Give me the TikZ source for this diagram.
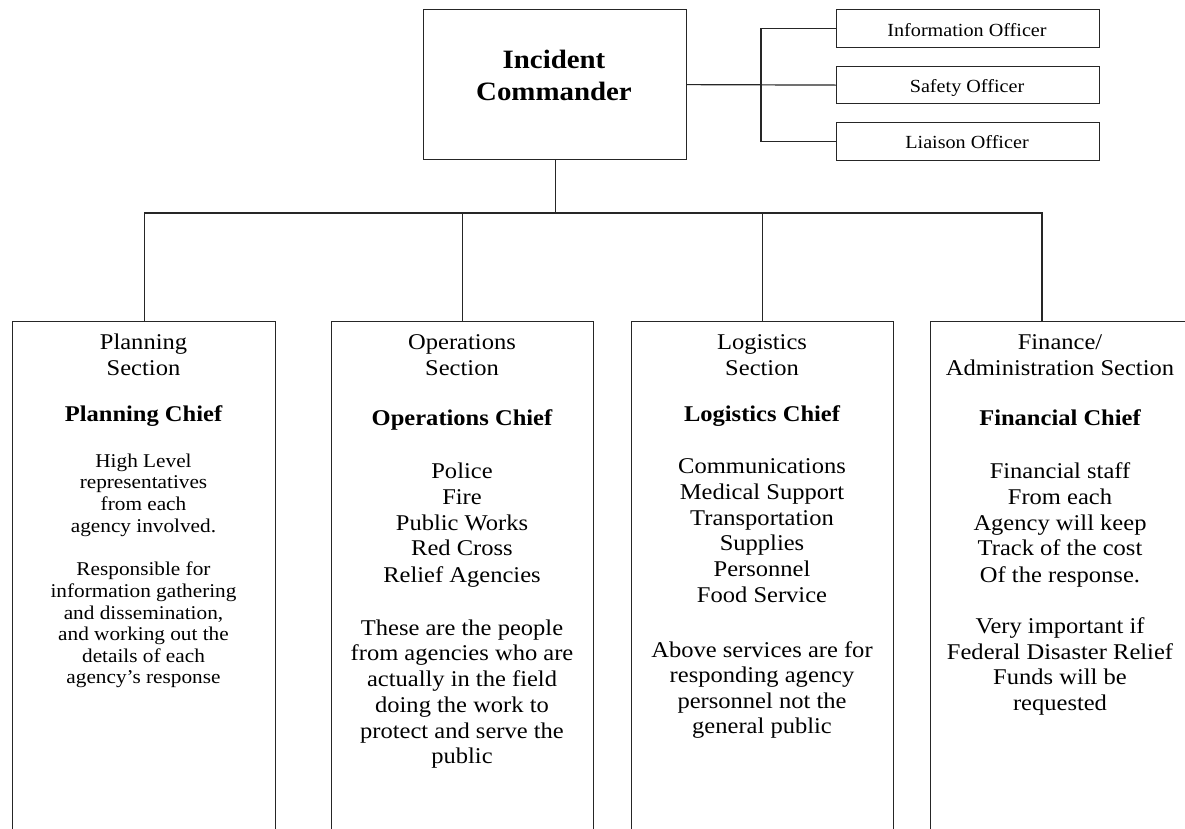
\documentclass[tikz,border=0pt]{standalone}
\usepackage{fontspec}
\setmainfont{Liberation Serif}[FakeStretch=1.09]
\begin{document}
\begin{tikzpicture}[x=1pt,y=-1pt,
 box/.style={draw=black!85, line width=1.2pt, rectangle, inner sep=0pt, anchor=north west},
 conn/.style={draw=black!85, line width=1.2pt},
 ictxt/.style={font=\fontsize{26.5}{32}\selectfont\bfseries, anchor=base, inner sep=0pt},
 hd/.style={font=\fontsize{22.5}{26}\selectfont, anchor=base, inner sep=0pt},
 chief/.style={font=\fontsize{22.5}{26}\selectfont\bfseries, anchor=base, inner sep=0pt},
 body/.style={font=\fontsize{22.5}{26}\selectfont, anchor=base, inner sep=0pt},
 small/.style={font=\fontsize{19.5}{21.5}\selectfont, anchor=base, inner sep=0pt},
 off/.style={font=\fontsize{18.5}{20}\selectfont, anchor=base, inner sep=0pt},
]
\useasboundingbox (0,0) rectangle (1185,828);
\fill[white] (0,0) rectangle (1185,828);
\clip (0,0) rectangle (1185,828);

% Incident commander
\node[box, minimum width=263, minimum height=150] (ic) at (423,9) {};
\node[ictxt] (ic1) at (554,68) {Incident};
\node[ictxt] (ic2) at (554,100) {Commander};

% Officers
\node[box, minimum width=263, minimum height=38] (info) at (836,9) {};
\node[box, minimum width=263, minimum height=37] (saf) at (836,66) {};
\node[box, minimum width=263, minimum height=38] (lia) at (836,122) {};
\node[off] (infot) at (967,36) {Information Officer};
\node[off] (saft) at (967,92) {Safety Officer};
\node[off] (liat) at (967,148) {Liaison Officer};

\coordinate (br) at (761,84);
\draw[conn] (ic.east) -- (saf.west);
\draw[conn] (info.west) -- (info.west -| br) -- (lia.west -| br) -- (lia.west);

% Sections
\node[box, minimum width=263, minimum height=540] (pl) at (12,321) {};
\node[box, minimum width=262, minimum height=540] (op) at (331,321) {};
\node[box, minimum width=262, minimum height=540] (lg) at (631,321) {};
\node[box, minimum width=262, minimum height=540] (fin) at (930,321) {};
\coordinate (finc) at (1042,321);
\coordinate (bus) at (554,213);

\draw[conn] (ic.south) -- (ic.south |- bus);
\draw[conn] (pl.north) -- (pl.north |- bus) -- (finc |- bus) -- (finc);
\draw[conn] (op.north) -- (op.north |- bus);
\draw[conn] (lg.north) -- (lg.north |- bus);

% Planning
\node[hd] (p1) at (143.5,349) {Planning};
\node[hd] (p2) at (143.5,375) {Section};
\node[chief] (p3) at (143.5,421) {Planning Chief};
\node[small] (p4) at (143.5,467) {High Level};
\node[small] (p5) at (143.5,488) {representatives};
\node[small] (p6) at (143.5,510) {from each};
\node[small] (p7) at (143.5,532) {agency involved.};
\node[small] (p8) at (143.5,575) {Responsible for};
\node[small] (p9) at (143.5,597) {information gathering};
\node[small] (p10) at (143.5,619) {and dissemination,};
\node[small] (p11) at (143.5,640) {and working out the};
\node[small] (p12) at (143.5,662) {details of each};
\node[small] (p13) at (143.5,683) {agency’s response};

% Operations
\node[hd] (o1) at (462,349) {Operations};
\node[hd] (o2) at (462,375) {Section};
\node[chief] (o3) at (462,425) {Operations Chief};
\node[body] (o4) at (462,478) {Police};
\node[body] (o5) at (462,504) {Fire};
\node[body] (o6) at (462,530) {Public Works};
\node[body] (o7) at (462,555) {Red Cross};
\node[body] (o8) at (462,582) {Relief Agencies};
\node[body] (o9) at (462,635) {These are the people};
\node[body] (o10) at (462,660) {from agencies who are};
\node[body] (o11) at (462,686) {actually in the field};
\node[body] (o12) at (462,712) {doing the work to};
\node[body] (o13) at (462,738) {protect and serve the};
\node[body] (o14) at (462,763) {public};

% Logistics
\node[hd] (l1) at (762,349) {Logistics};
\node[hd] (l2) at (762,375) {Section};
\node[chief] (l3) at (762,421) {Logistics Chief};
\node[body] (l4) at (762,473) {Communications};
\node[body] (l5) at (762,499) {Medical Support};
\node[body] (l6) at (762,525) {Transportation};
\node[body] (l7) at (762,550) {Supplies};
\node[body] (l8) at (762,576) {Personnel};
\node[body] (l9) at (762,602) {Food Service};
\node[body] (l10) at (762,657) {Above services are for};
\node[body] (l11) at (762,682) {responding agency};
\node[body] (l12) at (762,708) {personnel not the};
\node[body] (l13) at (762,733) {general public};

% Finance
\node[hd] (f1) at (1060,349) {Finance/};
\node[hd] (f2) at (1060,375) {Administration Section};
\node[chief] (f3) at (1060,425) {Financial Chief};
\node[body] (f4) at (1060,478) {Financial staff};
\node[body] (f5) at (1060,504) {From each};
\node[body] (f6) at (1060,530) {Agency will keep};
\node[body] (f7) at (1060,555) {Track of the cost};
\node[body] (f8) at (1060,582) {Of the response.};
\node[body] (f9) at (1060,633) {Very important if};
\node[body] (f10) at (1060,659) {Federal Disaster Relief};
\node[body] (f11) at (1060,684) {Funds will be};
\node[body] (f12) at (1060,710) {requested};
\end{tikzpicture}
\end{document}
